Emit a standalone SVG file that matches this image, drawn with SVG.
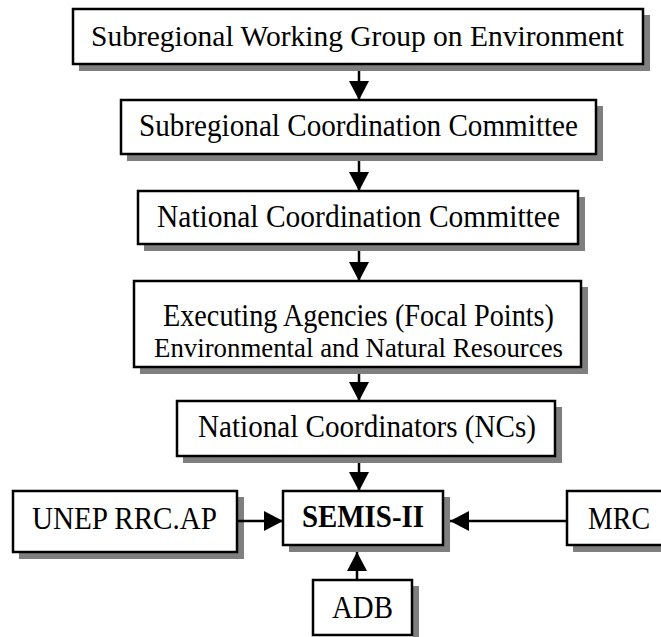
<svg xmlns="http://www.w3.org/2000/svg" width="661" height="637" viewBox="0 0 661 637">
<style>
.box{fill:#ffffff;stroke:#000000;stroke-width:2.5}
.shadow{fill:#7f7f7f;stroke:none}
.t{font-family:"Liberation Serif","Times New Roman",serif;font-size:31px;fill:#000000;text-anchor:middle}
.c{stroke:#000000;stroke-width:2.5;fill:none}
</style>
<defs>
<marker id="ah" markerUnits="userSpaceOnUse" markerWidth="20" markerHeight="20" viewBox="0 0 20 20" refX="19" refY="10" orient="auto">
<path d="M0,0 L19,10 L0,20 Z" fill="#000000"/>
</marker>
</defs>
<rect width="661" height="637" fill="#ffffff"/>
<g id="n1">
<path class="shadow" d="M644,15 H650 V71 H79 V65 H644 Z"/>
<rect class="box" x="73" y="9" width="570" height="55"/>
<text class="t" x="357.5" y="46" style="font-size:30px" textLength="533" lengthAdjust="spacingAndGlyphs">Subregional Working Group on Environment</text>
</g>
<g id="n2">
<path class="shadow" d="M597,106 H603 V161 H127 V155 H597 Z"/>
<rect class="box" x="121" y="100" width="475" height="54"/>
<text class="t" x="358.5" y="136" textLength="439" lengthAdjust="spacingAndGlyphs">Subregional Coordination Committee</text>
</g>
<g id="n3">
<path class="shadow" d="M579,197 H585 V251 H144 V245 H579 Z"/>
<rect class="box" x="138" y="191" width="440" height="53"/>
<text class="t" x="358.5" y="227" textLength="403" lengthAdjust="spacingAndGlyphs">National Coordination Committee</text>
</g>
<g id="n4">
<path class="shadow" d="M582,287 H588 V374 H140 V368 H582 Z"/>
<rect class="box" x="134" y="281" width="447" height="86"/>
<text class="t" x="358.5" y="326" textLength="391" lengthAdjust="spacingAndGlyphs">Executing Agencies (Focal Points)</text>
<text class="t" x="358.5" y="357" style="font-size:28px" textLength="409" lengthAdjust="spacingAndGlyphs">Environmental and Natural Resources</text>
</g>
<g id="n5">
<path class="shadow" d="M556,407 H562 V463 H183 V457 H556 Z"/>
<rect class="box" x="177" y="401" width="378" height="55"/>
<text class="t" x="367" y="437" textLength="338" lengthAdjust="spacingAndGlyphs">National Coordinators (NCs)</text>
</g>
<g id="unep">
<path class="shadow" d="M238,497 H244 V559 H19 V553 H238 Z"/>
<rect class="box" x="13" y="491" width="224" height="61"/>
<text class="t" x="124.5" y="529" textLength="185" lengthAdjust="spacingAndGlyphs">UNEP RRC.AP</text>
</g>
<g id="semis">
<path class="shadow" d="M444,497 H450 V552 H289 V546 H444 Z"/>
<rect class="box" x="283" y="491" width="160" height="54"/>
<text class="t" x="363" y="527" style="font-weight:bold" textLength="122" lengthAdjust="spacingAndGlyphs">SEMIS-II</text>
</g>
<g id="mrc">
<path class="shadow" d="M573,546 H661 V552 H573 Z"/>
<rect class="box" x="567" y="491" width="104" height="54"/>
<text class="t" x="619" y="529" textLength="62" lengthAdjust="spacingAndGlyphs">MRC</text>
</g>
<g id="adb">
<path class="shadow" d="M413,586 H419 V637 H413 Z"/>
<rect class="box" x="313" y="580" width="99" height="55"/>
<text class="t" x="362.5" y="618" textLength="61" lengthAdjust="spacingAndGlyphs">ADB</text>
</g>
<g id="connectors">
<path class="c" d="M359,71 V100" marker-end="url(#ah)"/>
<path class="c" d="M359,161 V191" marker-end="url(#ah)"/>
<path class="c" d="M359,251 V281" marker-end="url(#ah)"/>
<path class="c" d="M359,374 V401" marker-end="url(#ah)"/>
<path class="c" d="M359,463 V491" marker-end="url(#ah)"/>
<path class="c" d="M237,521 H283" marker-end="url(#ah)"/>
<path class="c" d="M567,521 H450" marker-end="url(#ah)"/>
<path class="c" d="M357,580 V552" marker-end="url(#ah)"/>
</g>
</svg>
